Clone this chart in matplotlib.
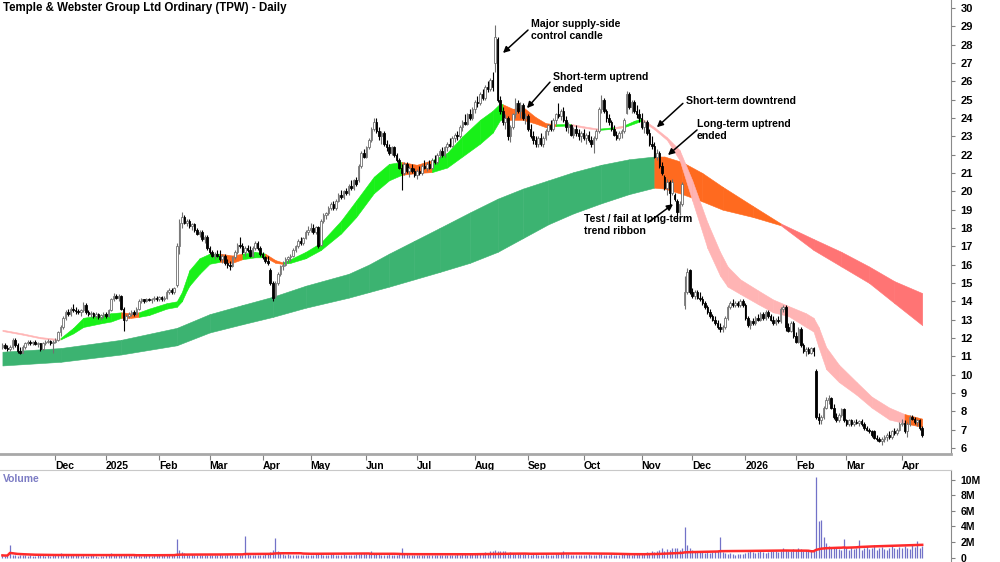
import numpy as np
import pandas as pd
import matplotlib
matplotlib.use("Agg")
import matplotlib.pyplot as plt

plt.rcParams['font.family'] = ['Liberation Sans', 'DejaVu Sans']

title = "Temple & Webster Group Ltd Ordinary (TPW) - Daily"
holidays = ["2024-12-25", "2024-12-26", "2025-01-01", "2025-01-27", "2025-04-18", "2025-04-21",
            "2025-04-25", "2025-06-09", "2025-12-25", "2025-12-26", "2026-01-01", "2026-01-26",
            "2026-04-03", "2026-04-06"]
dates = pd.bdate_range("2024-11-01", "2026-04-15", freq="C", holidays=holidays)

opens = [
    11.5,11.6,11.45,11.4,11.5,11.9,11.6,11.3,11.2,11.5,11.7,11.8,11.7,11.8,11.65,11.7,11.4,11.75,11.8,11.85,11.7,
    11.8,11.9,12.3,12.6,13.1,13.4,13.3,13.6,13.5,13.45,13.4,13.5,13.8,13.4,13.3,13.35,13.2,13.3,13.15,13.25,
    13.3,13.2,13.5,14.1,14.3,14.2,14.3,13.6,13.0,13.2,13.3,13.4,13.3,13.6,14.0,14.1,14.0,14.15,14.05,14.1,14.2,
    14.1,14.25,14.1,14.2,14.5,14.6,14.5,14.9,17.0,18.3,18.6,18.3,18.4,18.1,18.2,17.9,17.7,17.8,17.4,17.5,
    16.9,16.7,16.5,16.6,16.5,16.3,16.5,16.1,16.0,15.9,16.4,16.7,17.1,17.0,16.7,16.9,16.8,16.5,16.9,17.2,16.9,
    16.6,16.4,16.2,15.7,15.0,14.3,15.0,15.5,15.9,16.0,16.3,16.4,16.5,16.8,17.0,17.3,17.2,17.45,17.8,
    17.9,18.0,17.8,18.05,17.1,18.4,18.7,18.8,19.1,19.3,19.1,19.5,19.8,19.7,20.0,19.9,20.3,20.2,20.6,20.6,21.4,22.1,
    21.9,22.4,22.8,23.4,23.8,23.3,23.0,23.2,22.6,22.4,22.1,22.4,22.0,21.7,21.3,21.0,21.5,21.1,21.3,21.1,
    20.9,21.1,21.0,21.4,21.3,21.5,21.3,21.7,21.6,22.0,22.2,22.0,22.4,22.6,22.5,22.9,23.1,23.0,23.5,23.8,23.7,24.2,24.0,
    24.5,24.9,24.8,25.3,25.1,25.7,25.6,26.1,27.0,28.3,25.0,24.4,23.8,24.0,23.0,23.5,24.2,24.8,24.4,24.7,24.0,
    24.1,23.4,23.0,22.8,22.6,22.9,22.6,22.9,23.3,23.6,23.4,23.9,24.2,24.1,24.4,23.9,23.5,23.6,23.1,23.4,23.2,23.0,
    23.2,22.9,23.1,22.8,22.6,22.9,23.3,24.5,25.0,24.4,24.0,23.8,23.4,23.1,22.9,23.2,23.3,24.3,25.3,24.6,24.9,24.4,24.2,
    24.0,23.5,23.8,23.2,22.6,22.5,21.9,22.1,21.4,20.8,20.2,20.5,19.9,19.8,19.5,18.9,19.3,13.8,14.5,15.7,
    14.5,14.3,14.5,14.2,14.1,13.9,13.7,13.4,13.2,13.0,12.8,12.6,12.5,12.6,13.1,13.7,13.9,13.8,13.9,13.8,14.0,
    13.8,13.1,12.7,12.9,12.8,13.1,13.0,13.3,13.1,13.4,13.2,13.0,12.8,13.0,12.9,13.6,13.7,12.6,12.4,12.8,
    12.1,11.8,12.5,11.6,11.3,11.4,11.2,11.45,10.2,7.7,7.5,7.7,8.2,8.6,8.7,8.2,7.7,7.5,7.8,8.1,
    7.5,7.3,7.5,7.3,7.4,7.35,7.45,7.3,7.1,7.0,6.9,6.9,6.55,6.5,6.4,6.5,6.6,6.7,6.6,6.9,6.8,7.0,
    7.3,7.35,6.9,7.3,7.7,7.6,7.4,7.5,7.1,
]
highs = [
    11.7,11.7,11.6,11.6,12.0,12.0,11.7,11.5,11.6,11.8,11.9,11.9,11.85,11.9,11.8,11.75,11.8,11.9,11.95,11.9,11.9,
    12.0,12.4,12.7,13.2,13.5,13.6,13.7,13.85,13.7,13.6,13.6,13.95,13.9,13.5,13.45,13.4,13.4,13.35,13.3,13.4,
    13.4,13.6,14.2,14.45,14.4,14.4,14.35,13.7,13.3,13.4,13.5,13.5,13.7,14.1,14.2,14.15,14.2,14.2,14.2,14.3,14.3,
    14.3,14.3,14.3,14.6,14.7,14.7,14.8,17.2,18.5,18.9,18.7,18.5,18.5,18.3,18.3,18.0,17.9,17.9,17.6,17.6,
    17.0,16.8,16.7,16.8,16.8,16.6,16.6,16.3,16.2,16.5,16.8,17.2,17.5,17.2,17.0,17.1,17.0,17.0,17.3,17.3,17.0,
    16.7,16.5,16.5,15.8,15.1,15.1,15.6,16.0,16.2,16.4,16.5,16.6,16.9,17.1,17.4,17.5,17.5,17.9,18.1,
    18.3,18.2,18.1,18.1,18.5,18.8,18.9,19.2,19.4,19.5,19.6,19.9,20.1,20.1,20.2,20.4,20.6,20.7,20.8,21.5,22.2,22.3,
    22.5,22.9,23.5,24.0,24.0,23.5,23.3,23.3,22.8,22.6,22.5,22.5,22.1,21.8,21.5,21.6,21.6,21.4,21.5,21.3,
    21.2,21.4,21.5,21.7,21.6,21.7,21.8,22.0,22.1,22.3,22.4,22.5,22.7,22.9,23.0,23.2,23.3,23.6,23.9,24.2,24.3,24.5,24.6,
    25.0,25.2,25.4,25.6,25.8,26.0,26.2,26.5,29.1,28.4,25.2,24.6,24.2,24.1,23.6,24.3,25.1,25.0,24.9,24.8,24.3,
    24.2,23.7,23.3,23.0,23.0,23.2,23.0,23.4,23.7,23.9,24.0,24.3,24.8,24.5,24.6,24.1,23.8,23.7,23.5,23.6,23.4,23.3,
    23.4,23.2,23.3,23.0,23.0,23.4,24.6,25.25,25.1,24.5,24.2,23.9,23.6,23.3,23.3,23.4,24.0,25.5,25.4,25.0,25.0,24.7,24.5,
    24.3,23.9,23.9,23.4,23.0,22.7,22.3,22.2,21.6,20.9,20.7,20.6,20.7,19.9,19.6,19.5,20.5,15.4,15.8,15.75,
    14.7,14.6,14.6,14.5,14.3,14.0,13.8,13.6,13.3,13.2,13.0,12.8,12.7,13.2,13.8,14.0,14.1,14.0,14.0,14.1,14.1,
    13.9,13.2,13.0,13.1,13.2,13.3,13.4,13.4,13.5,13.5,13.3,13.2,13.1,13.2,13.7,13.8,13.8,12.8,12.9,12.9,
    12.3,12.6,12.6,11.7,11.5,11.5,11.5,11.5,10.3,7.9,7.8,8.3,8.8,8.9,8.8,8.4,7.9,7.9,8.2,8.2,
    7.6,7.6,7.6,7.5,7.6,7.5,7.6,7.4,7.2,7.1,7.0,7.0,6.7,6.6,6.6,6.7,6.8,6.9,7.0,7.1,7.1,7.4,
    7.6,7.5,7.4,7.8,7.8,7.7,7.6,7.6,7.2,
]
lows = [
    11.4,11.4,11.3,11.3,11.4,11.5,11.2,11.1,11.2,11.4,11.6,11.6,11.6,11.6,11.5,11.3,11.35,11.6,11.7,11.6,11.2,
    11.7,11.85,12.1,12.5,13.0,13.2,13.2,13.4,13.3,13.3,13.2,13.4,13.3,13.2,13.15,13.1,13.1,13.05,13.0,13.1,
    13.1,13.15,13.45,14.0,14.1,14.0,13.5,12.4,12.9,13.1,13.2,13.2,13.25,13.55,13.9,13.9,13.95,14.0,13.9,14.0,14.0,
    14.0,14.0,14.0,14.15,14.4,14.4,14.4,14.8,16.6,18.0,18.2,18.1,18.0,17.9,17.8,17.6,17.5,17.3,17.2,16.8,
    16.6,16.4,16.3,16.4,16.2,16.1,16.0,15.8,15.7,15.85,16.3,16.6,16.9,16.6,16.5,16.7,16.4,16.4,16.8,16.8,16.5,
    16.3,16.1,16.0,14.9,14.0,14.2,14.9,15.4,15.7,15.9,16.1,16.2,16.4,16.7,16.9,17.1,17.1,17.4,17.6,
    17.8,17.7,17.7,16.9,17.0,18.3,18.5,18.7,19.0,19.0,19.0,19.4,19.6,19.6,19.8,19.8,20.1,20.1,20.3,20.5,21.3,21.8,
    21.8,22.3,22.7,23.3,23.2,22.8,22.6,22.5,22.2,22.0,22.0,21.9,21.6,21.2,20.1,20.9,21.0,20.8,21.0,20.8,
    20.7,20.9,20.9,21.2,21.1,21.2,21.2,21.5,21.5,21.8,21.9,21.9,22.2,22.4,22.4,22.7,22.8,22.9,23.3,23.6,23.6,23.9,23.9,
    24.3,24.6,24.7,25.0,25.0,25.4,25.5,25.5,26.5,24.9,24.2,23.6,23.4,22.8,22.7,23.4,24.0,24.3,24.0,23.9,23.7,
    23.3,22.9,22.6,22.4,22.4,22.5,22.4,22.8,23.1,23.3,23.3,23.7,24.0,23.9,23.8,23.3,23.2,23.0,22.9,23.0,22.8,22.7,
    22.8,22.6,22.7,22.4,22.1,22.8,23.2,24.3,24.3,23.8,23.6,23.3,23.0,22.8,22.8,22.9,23.2,24.2,24.5,24.3,24.3,24.0,23.8,
    23.4,23.2,23.1,22.5,22.3,21.8,21.7,21.3,20.9,20.1,19.8,19.1,19.8,19.5,18.4,18.7,19.2,13.6,14.4,14.4,
    14.2,14.1,14.1,14.0,13.8,13.6,13.3,13.1,12.9,12.7,12.5,12.3,12.3,12.5,13.0,13.6,13.7,13.7,13.7,13.7,13.7,
    13.0,12.6,12.5,12.7,12.7,12.9,12.9,13.0,13.0,13.1,12.9,12.7,12.7,12.8,12.8,13.4,12.4,12.3,12.3,12.0,
    11.7,11.7,11.5,11.2,11.0,11.1,11.1,11.0,7.6,7.3,7.3,7.6,8.1,8.4,8.1,7.6,7.4,7.4,7.7,7.4,
    7.2,7.2,7.2,7.2,7.3,7.2,7.2,7.0,6.9,6.8,6.6,6.5,6.4,6.3,6.15,6.3,6.4,6.5,6.5,6.7,6.7,6.9,
    7.2,6.8,6.6,7.2,7.5,7.3,7.2,7.0,6.6,
]
closes = [
    11.6,11.45,11.4,11.5,11.9,11.6,11.3,11.2,11.5,11.7,11.8,11.7,11.8,11.65,11.7,11.4,11.75,11.8,11.85,11.7,11.8,
    11.9,12.3,12.6,13.1,13.4,13.3,13.6,13.5,13.45,13.4,13.5,13.8,13.4,13.3,13.35,13.2,13.3,13.15,13.25,13.3,
    13.2,13.5,14.1,14.3,14.2,14.3,13.6,13.0,13.2,13.3,13.4,13.3,13.6,14.0,14.1,14.0,14.15,14.05,14.1,14.2,14.1,
    14.25,14.1,14.2,14.5,14.6,14.5,14.7,17.0,18.3,18.6,18.3,18.4,18.1,18.2,17.9,17.7,17.8,17.4,17.5,16.9,
    16.7,16.5,16.6,16.5,16.3,16.5,16.1,16.0,15.9,16.4,16.7,17.1,17.0,16.7,16.9,16.8,16.5,16.9,17.2,16.9,16.6,
    16.4,16.2,16.1,15.0,14.2,15.0,15.5,15.9,16.0,16.3,16.4,16.5,16.8,17.0,17.3,17.2,17.45,17.8,17.9,
    18.0,17.8,18.05,17.0,18.4,18.7,18.8,19.1,19.3,19.1,19.5,19.8,19.7,20.0,19.9,20.3,20.2,20.6,20.4,21.4,22.1,21.9,
    22.4,22.8,23.4,23.8,23.3,23.0,23.2,22.6,22.4,22.1,22.4,22.0,21.7,21.3,21.0,21.5,21.1,21.3,21.1,20.9,
    21.1,21.0,21.4,21.3,21.5,21.3,21.7,21.6,22.0,22.2,22.0,22.4,22.6,22.5,22.9,23.1,23.0,23.5,23.8,23.7,24.2,24.0,24.5,
    24.9,24.8,25.3,25.1,25.7,25.6,26.1,25.7,28.4,25.0,24.4,23.8,24.0,23.0,23.5,24.2,24.8,24.4,24.7,24.0,24.1,
    23.4,23.0,22.8,22.6,22.9,22.6,22.9,23.3,23.6,23.4,23.9,24.2,24.1,24.4,23.9,23.5,23.6,23.1,23.4,23.2,23.0,23.2,
    22.9,23.1,22.8,22.6,22.9,23.3,24.5,25.0,24.4,24.0,23.8,23.4,23.1,22.9,23.2,23.3,23.9,25.3,24.6,24.9,24.4,24.2,24.0,
    23.5,23.8,23.2,22.6,22.5,21.9,22.1,21.4,21.0,20.2,20.5,19.9,20.5,19.6,18.9,19.3,20.4,14.5,15.6,14.5,
    14.3,14.5,14.2,14.1,13.9,13.7,13.4,13.2,13.0,12.8,12.6,12.5,12.6,13.1,13.7,13.9,13.8,13.9,13.8,14.0,13.8,
    13.1,12.7,12.9,12.8,13.1,13.0,13.3,13.1,13.4,13.2,13.0,12.8,13.0,12.9,13.6,13.7,12.6,12.4,12.8,12.1,
    11.8,12.5,11.6,11.3,11.4,11.2,11.45,11.3,7.7,7.5,7.7,8.2,8.6,8.7,8.2,7.7,7.5,7.8,8.1,7.5,
    7.3,7.5,7.3,7.4,7.35,7.45,7.3,7.1,7.0,6.9,6.7,6.55,6.5,6.4,6.5,6.6,6.7,6.6,6.9,6.8,7.0,7.3,
    7.35,6.9,7.3,7.7,7.6,7.4,7.5,7.1,6.7,
]
volume_m = [
    0.3,0.25,0.3,1.6,0.4,0.3,0.25,0.3,0.35,0.3,0.25,0.3,0.2,0.25,0.3,0.35,0.3,0.25,0.3,0.2,0.3,
    0.3,0.35,0.55,0.4,0.45,0.35,0.3,0.4,0.35,0.3,0.25,0.3,0.2,0.25,0.3,0.35,0.2,0.15,0.25,0.2,
    0.3,0.35,0.6,0.4,0.35,0.3,0.45,0.5,0.35,0.3,0.25,0.3,0.35,0.3,0.25,0.3,0.35,0.3,0.25,0.3,0.35,
    0.3,0.35,0.3,0.4,0.35,0.45,0.5,2.4,1.0,0.7,0.6,0.5,0.4,0.45,0.4,0.35,0.4,0.3,0.35,0.3,
    0.35,0.4,0.3,0.35,0.45,0.4,0.35,0.5,0.4,0.35,0.3,0.4,0.35,0.3,2.8,0.5,0.4,0.35,0.3,0.4,0.35,
    0.4,0.45,0.5,0.7,1.0,2.5,0.8,0.6,0.5,0.4,0.45,0.4,0.35,0.4,0.35,0.3,0.4,0.35,0.3,
    0.35,0.4,0.5,0.6,0.45,0.4,0.35,0.4,0.45,0.5,0.4,0.35,0.4,0.45,0.4,0.35,0.3,0.4,0.45,0.5,0.55,0.6,
    0.5,0.6,0.8,0.6,0.5,0.45,0.4,0.35,0.4,0.45,0.4,0.35,0.4,0.5,1.3,0.6,0.45,0.4,0.35,0.4,
    0.35,0.3,0.4,0.35,0.3,0.35,0.4,0.3,0.35,0.3,0.35,0.4,0.35,0.3,0.35,0.4,0.45,0.4,0.5,0.45,0.4,0.5,0.55,
    0.5,0.6,0.55,0.6,0.7,0.6,0.8,0.9,1.0,0.9,0.8,0.9,0.8,0.6,0.7,0.6,0.5,0.55,0.5,0.45,0.5,
    0.45,0.4,0.5,0.45,0.4,0.35,0.4,0.45,0.4,0.35,0.4,0.45,0.5,0.6,0.9,0.5,0.45,0.4,0.35,0.4,0.35,0.4,
    0.35,0.4,0.45,0.4,0.35,0.4,0.5,0.45,0.4,0.35,0.4,0.45,0.4,0.35,0.4,0.5,0.6,0.5,0.45,0.4,0.45,0.5,0.55,
    0.6,0.55,0.7,0.6,0.8,0.7,0.9,1.0,1.2,0.9,1.1,1.0,1.3,1.2,1.2,1.0,1.3,3.9,1.6,1.2,
    1.0,0.9,0.8,0.7,0.8,0.6,0.7,0.6,0.7,0.8,0.9,2.6,0.7,0.6,0.5,0.6,0.5,0.4,0.5,0.45,0.5,
    0.6,0.7,0.8,0.7,0.6,0.7,0.8,0.7,0.6,0.7,0.8,0.9,0.8,0.7,0.9,1.3,1.0,0.8,0.9,1.1,
    1.0,1.2,1.1,0.9,1.0,0.8,0.9,1.0,10.3,4.7,4.8,2.7,1.9,1.5,1.3,1.2,1.4,1.1,1.0,2.4,
    1.2,1.0,1.4,1.1,1.3,2.3,1.0,1.2,1.5,1.1,1.3,1.6,1.0,1.2,1.4,1.1,1.0,1.3,1.5,1.2,1.1,1.4,
    1.2,1.5,1.3,1.1,1.6,1.4,2.2,1.3,1.5,
]

# Short-term trend ribbon (trading-day number, upper, lower, state of following segment)
st_day = [0, 8, 15, 22, 23, 28, 32, 39, 43, 47, 51, 54, 58, 65, 69, 71, 73, 74, 78, 82, 86, 91, 95, 100,
          104, 108, 111, 114, 120, 126, 134, 140, 147, 153, 158, 164, 170, 176, 182, 189, 194, 197, 198,
          202, 206, 211, 215, 219, 225, 230, 236, 242, 246, 250, 253, 258, 263, 268, 273, 279, 284, 287,
          292, 299, 305, 311, 318, 321, 323, 326, 331, 338, 344, 351, 357, 364]
st_upper = [12.45, 12.25, 12.05, 11.95, 12.0, 12.55, 13.1, 13.25, 13.35, 13.4, 13.35, 13.4, 13.6, 13.9,
            14.0, 14.5, 15.3, 15.7, 16.35, 16.6, 16.6, 16.5, 16.6, 16.7, 16.6, 16.25, 16.12, 16.3, 16.7,
            17.2, 18.4, 19.5, 20.8, 21.5, 21.6, 21.45, 21.7, 22.1, 23.0, 23.9, 24.4, 24.8, 24.75, 24.5,
            24.6, 24.05, 23.72, 23.66, 23.68, 23.55, 23.42, 23.5, 23.6, 23.85, 23.98, 23.5, 22.95, 22.25,
            20.6, 18.3, 16.7, 15.9, 15.2, 14.6, 14.1, 13.75, 13.35, 13.1, 12.6, 11.5, 10.55, 9.6, 8.8,
            8.2, 7.85, 7.6]
st_lower = [12.38, 12.18, 11.98, 11.88, 11.92, 12.25, 12.6, 12.8, 12.9, 13.1, 13.1, 13.15, 13.25, 13.6,
            13.7, 14.0, 14.6, 14.85, 15.5, 16.05, 16.15, 16.1, 16.3, 16.4, 16.4, 16.1, 16.04, 16.1, 16.35,
            16.8, 17.7, 18.6, 19.9, 20.6, 20.9, 21.0, 21.05, 21.3, 21.9, 22.6, 23.2, 23.9, 23.9, 23.9,
            23.9, 23.7, 23.5, 23.56, 23.6, 23.47, 23.35, 23.42, 23.5, 23.7, 23.85, 23.38, 22.8, 21.7,
            19.5, 16.9, 15.4, 14.8, 14.4, 13.85, 13.4, 13.2, 12.6, 12.35, 11.5, 10.3, 9.6, 8.9, 8.2,
            7.55, 7.35, 7.15]
st_state = ["p", "p", "p", "p", "g", "g", "g", "g", "g", "o", "o", "g", "g", "g", "g", "g", "g", "g",
            "g", "g", "o", "o", "g", "g", "o", "o", "g", "g", "g", "g", "g", "g", "g", "g", "o", "o",
            "g", "g", "g", "g", "g", "g", "o", "o", "o", "o", "o", "g", "p", "p", "g", "p", "g", "g",
            "p", "p", "p", "p", "p", "p", "p", "p", "p", "p", "p", "p", "p", "p", "p", "p", "p", "p",
            "p", "p", "o", "o"]

# Long-term trend ribbon
lt_day = [0, 23, 47, 69, 82, 95, 107, 120, 137, 145, 153, 163, 173, 185, 196, 206, 216, 226, 237, 248,
          258, 262, 269, 277, 285, 297, 308, 321, 332, 343, 353, 364]
lt_upper = [11.25, 11.45, 11.9, 12.55, 13.3, 13.8, 14.25, 14.85, 15.5, 16.0, 16.6, 17.3, 18.0, 18.85,
            19.6, 20.15, 20.6, 21.05, 21.45, 21.75, 21.9, 21.9, 21.6, 21.0, 20.25, 19.2, 18.25, 17.4,
            16.7, 15.9, 15.1, 14.45]
lt_lower = [10.5, 10.7, 11.1, 11.6, 12.3, 12.75, 13.15, 13.65, 14.2, 14.5, 14.8, 15.2, 15.6, 16.1,
            16.7, 17.45, 18.2, 18.8, 19.35, 19.85, 20.2, 20.15, 19.85, 19.45, 19.0, 18.6, 18.15, 16.8,
            15.9, 15.0, 13.9, 12.7]
lt_state = ["g", "g", "g", "g", "g", "g", "g", "g", "g", "g", "g", "g", "g", "g", "g", "g", "g", "g",
            "g", "g", "o", "o", "o", "o", "o", "o", "r", "r", "r", "r", "r", "r"]

price_ticks = list(range(6, 31))
vol_ticks = [0, 2, 4, 6, 8, 10]

notes = [
    ("Major supply-side\ncontrol candle", (209.2, 29.4), (208.0, 28.8), (198.1, 27.55)),
    ("Short-term uptrend\nended", (217.9, 26.5), (216.7, 25.96), (207.6, 24.54)),
    ("Short-term downtrend", (270.5, 25.2), (269.3, 24.8), (259.0, 23.5)),
    ("Long-term uptrend\nended", (274.9, 23.95), (274.9, 23.35), (263.4, 21.98)),
    ("Test / fail at long-term\ntrend ribbon", (230.1, 18.75), (255.5, 18.3), (265.4, 19.3)),
]

n = len(dates)
for name, arr in [("opens", opens), ("highs", highs), ("lows", lows), ("closes", closes), ("volume", volume_m)]:
    assert len(arr) == n, f"{name}: {len(arr)} != {n}"

o = np.array(opens); h = np.array(highs); l = np.array(lows); c = np.array(closes)
x = np.arange(n)

fig = plt.figure(figsize=(10, 5.62), dpi=100)
ax = fig.add_axes([0.0, 1 - 454 / 562, 0.951, 454 / 562])
axv = fig.add_axes([0.0, 0.0, 0.951, 92 / 562])

st_colors = {"g": "#18F018", "o": "#FF6A1F", "p": "#FFB4B4"}
lt_colors = {"g": "#3CB371", "o": "#FF6A1F", "r": "#FF7474"}


def ribbon(axis, day, up, lo, state, cols):
    for k in range(len(day) - 1):
        col = cols[state[k]]
        axis.fill_between([day[k], day[k + 1]], [lo[k], lo[k + 1]], [up[k], up[k + 1]],
                          color=col, lw=0.4, edgecolor=col, zorder=1)


ribbon(ax, lt_day, lt_upper, lt_lower, lt_state, lt_colors)
ribbon(ax, st_day, st_upper, st_lower, st_state, st_colors)

up = c >= o
edge = np.where(up, "#707070", "black")
face = np.where(up, "white", "black")
ax.vlines(x, l, h, colors=edge, lw=0.8, zorder=3)
body_lo = np.minimum(o, c)
body_h = np.maximum(np.abs(c - o), 0.05)
ax.bar(x, body_h, bottom=body_lo, width=0.62, color=face, edgecolor=edge, linewidth=0.6, zorder=4)

ax.set_xlim(-0.96, 375.4)
ax.set_ylim(5.67, 30.44)
ax.yaxis.tick_right()
ax.set_yticks(price_ticks)
ax.set_yticklabels([str(t) for t in price_ticks], fontsize=8, fontweight="bold")
ax.tick_params(axis="y", length=3, color="#808080", pad=4)
for s in ["left", "top"]:
    ax.spines[s].set_visible(False)
ax.spines["right"].set_color("#8a8a8a")
ax.spines["bottom"].set_color("#a8a8a8")
ax.spines["bottom"].set_linewidth(2)

month_start = [i for i in range(1, n) if dates[i].month != dates[i - 1].month]
mlabels = [str(dates[i].year) if dates[i].month == 1 else dates[i].strftime("%b") for i in month_start]
ax.set_xticks(month_start)
ax.set_xticklabels(mlabels, fontsize=7.5, fontweight="bold", ha="left")
ax.tick_params(axis="x", length=4, color="#808080", pad=1)

for text, tpos, tail, head in notes:
    ax.text(tpos[0], tpos[1], text, fontsize=7.6, fontweight="bold", ha="left", va="top",
            linespacing=1.25, zorder=6)
    ax.annotate("", xy=head, xytext=tail,
                arrowprops=dict(arrowstyle="-|>", color="black", lw=1.1, mutation_scale=9,
                                shrinkA=0, shrinkB=0), zorder=6)

fig.text(0.003, 1 - 8 / 562, title, fontsize=8.3, fontweight="bold", ha="left", va="center")

vol = np.array(volume_m)
axv.vlines(x, 0, vol, colors="#7272C8", lw=0.9)
vol_ma = pd.Series(vol).rolling(50, min_periods=1).mean()
axv.plot(x, vol_ma, color="#FF2A2A", lw=1.8)
axv.set_xlim(-0.96, 375.4)
axv.set_ylim(-0.55, 11.24)
axv.yaxis.tick_right()
axv.set_yticks(vol_ticks)
axv.set_yticklabels(["0" if t == 0 else f"{t}M" for t in vol_ticks], fontsize=7.5, fontweight="bold")
axv.tick_params(axis="y", length=3, color="#808080", pad=4)
axv.set_xticks([])
for s in ["left", "bottom"]:
    axv.spines[s].set_visible(False)
axv.spines["right"].set_color("#8a8a8a")
axv.spines["top"].set_color("#c8c8c8")
axv.text(0.003, 0.9, "Volume", transform=axv.transAxes, color="#7C7CC4", fontsize=7.5,
         fontweight="bold", va="center", ha="left")

fig.savefig("out.png", dpi=100)
